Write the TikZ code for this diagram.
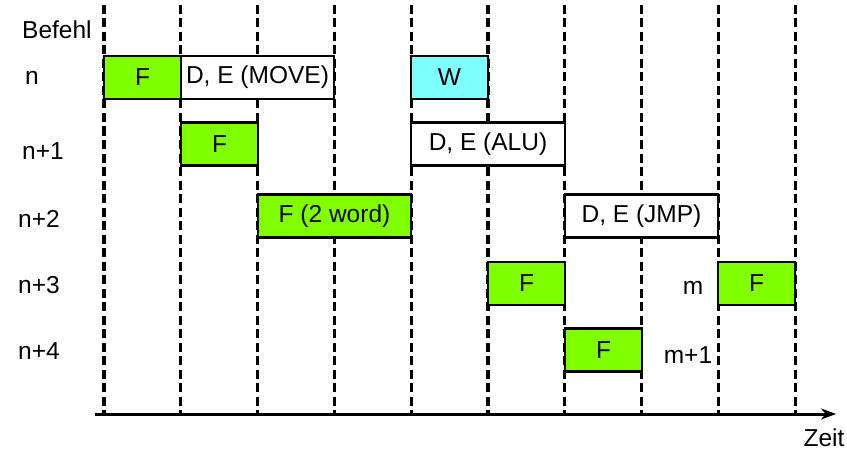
\documentclass[tikz,border=0pt]{standalone}
\usepackage{fontspec}
\setmainfont{Liberation Sans}
\usetikzlibrary{arrows.meta}
\definecolor{fetchgreen}{RGB}{128,255,0}
\definecolor{writecyan}{RGB}{128,255,255}

\tikzset{
  phase/.style={draw,line width=2.2pt,minimum height=43pt,inner sep=0pt,
    font=\fontsize{24.5}{28}\selectfont},
  fetch/.style={phase,fill=fetchgreen,minimum width=77pt},
  label/.style={font=\fontsize{24.5}{28}\selectfont,inner sep=0pt}
}

\begin{document}
\begin{tikzpicture}[x=1pt,y=-1pt]
\useasboundingbox (0,0) rectangle (847,452);

% clock boundaries
\foreach \i in {0,...,9} {
  \coordinate (t\i) at ({104+76.8*\i},5);
  \coordinate (b\i) at ({104+76.8*\i},414);
  \draw[line width=3.2pt,dash pattern=on 9pt off 4.5pt] (t\i) -- (b\i);
}

% time axis
\coordinate (ax0) at (95,414);
\coordinate (ax1) at (836,414);
\draw[line width=3pt,-{Stealth[length=15pt,width=11pt]}] (ax0) -- (ax1);
\node[label] (zeit) at (824,438) {Zeit};

% row labels
\node[label,anchor=west] (befehl) at (22,30) {Befehl};
\node[label,anchor=west] (rn) at (25,78) {n};
\node[label,anchor=west] (rn1) at (22,151) {n+1};
\node[label,anchor=west] (rn2) at (18,219) {n+2};
\node[label,anchor=west] (rn3) at (18,285) {n+3};
\node[label,anchor=west] (rn4) at (18,351) {n+4};

% instruction n
\node[fetch] (f0) at (142.5,77.5) {F};
\node[phase,fill=white,minimum width=153pt] (de0) at (257.5,77.5) {D, E (MOVE)};
\node[phase,fill=writecyan,minimum width=77pt] (w0) at (449.5,77.5) {W};

% instruction n+1
\node[fetch] (f1) at (219.5,144) {F};
\node[phase,fill=white,minimum width=154pt] (de1) at (488,144) {D, E (ALU)};

% instruction n+2
\node[fetch,minimum width=153pt] (f2) at (334.5,216) {F (2 word)};
\node[phase,fill=white,minimum width=153pt] (de2) at (641.5,216) {D, E (JMP)};

% instruction n+3 and jump target m
\node[fetch] (f3) at (526.5,283.5) {F};
\node[label] (m) at (693,288) {m};
\node[fetch] (fm) at (756.5,283.5) {F};

% instruction n+4
\node[fetch] (f4) at (603.5,350) {F};
\node[label] (m1) at (688,355) {m+1};
\end{tikzpicture}
\end{document}
